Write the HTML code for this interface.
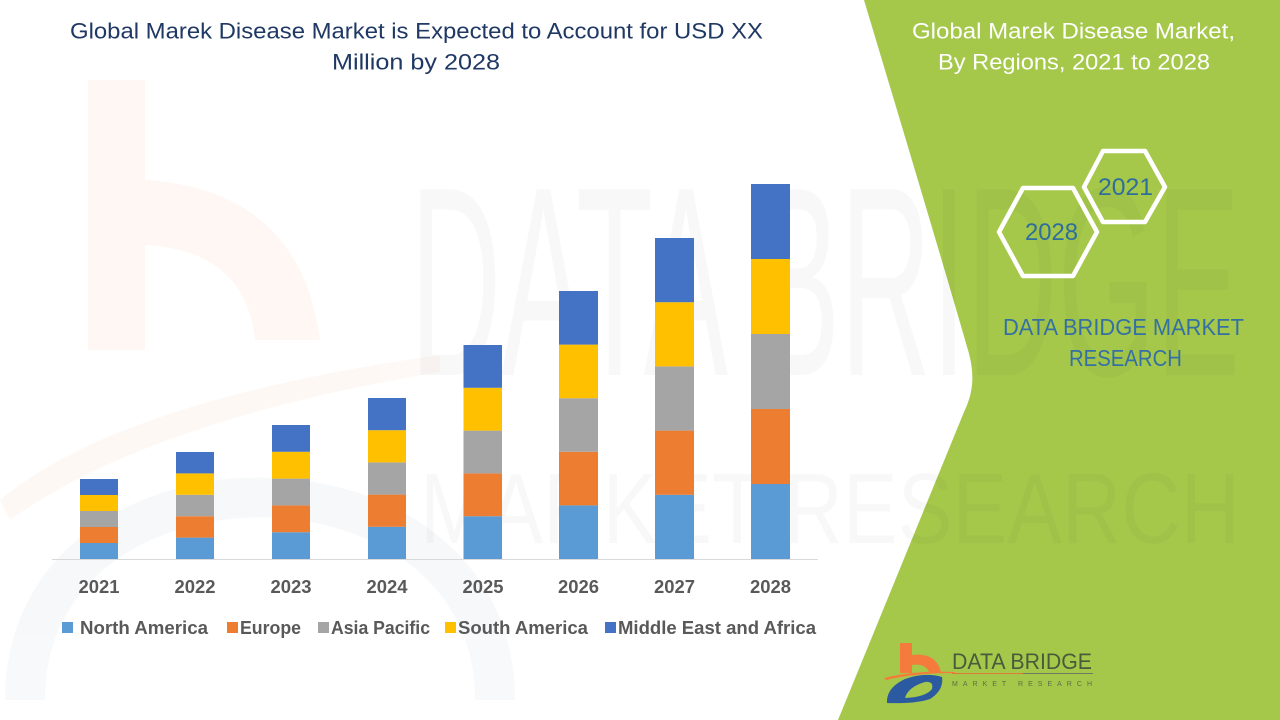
<!DOCTYPE html>
<html>
<head>
<meta charset="utf-8">
<style>
  html,body{margin:0;padding:0;background:#fff;width:1280px;height:720px;overflow:hidden;}
  svg{display:block;overflow:hidden;}
  text{font-family:"Liberation Sans", Arial, sans-serif;}
</style>
</head>
<body>
<svg width="1280" height="720" viewBox="0 0 1280 720" xmlns="http://www.w3.org/2000/svg">
  <rect x="0" y="0" width="1280" height="720" fill="#ffffff"/>

  <!-- faint left watermark logo -->
  <g opacity="0.45">
    <rect x="88" y="80" width="57" height="270" fill="#fdeee6"/>
    <path d="M145,180 Q300,190 320,340 L255,340 Q245,250 145,245 Z" fill="#fdeee6"/>
    <path d="M0,500 Q120,400 440,355 L440,372 Q150,420 10,520 Z" fill="#fdf1ea"/>
    <path d="M25,700 C25,430 495,430 495,700" fill="none" stroke="#eef1f6" stroke-width="40"/>
  </g>

  <!-- green panel -->
  <path d="M864,0 C900,120 945,270 968,350 C976,378 972,395 964,412 L838,720 L1280,720 L1280,0 Z" fill="#a5c84b"/>

  <!-- faint background watermark text -->
  <text x="410" y="375" font-size="270" textLength="830" lengthAdjust="spacingAndGlyphs" fill="#000" opacity="0.025">DATA BRIDGE</text>
  <text x="420" y="543" font-size="100" textLength="820" lengthAdjust="spacingAndGlyphs" fill="#000" opacity="0.025">MARKET RESEARCH</text>

  <!-- Left title -->
  <text x="70" y="38.5" font-size="22" fill="#1f3864" textLength="693" lengthAdjust="spacingAndGlyphs">Global Marek Disease Market is Expected to Account for USD XX</text>
  <text x="332" y="69.5" font-size="22" fill="#1f3864" textLength="168" lengthAdjust="spacingAndGlyphs">Million by 2028</text>

  <!-- axis -->
  <line x1="52" y1="559.5" x2="818" y2="559.5" stroke="#d9d9d9" stroke-width="1"/>

  <!-- 2021 -->
  <g>
    <rect x="80" y="543" width="38" height="16" fill="#5b9bd5"/>
    <rect x="80" y="527" width="38" height="16" fill="#ed7d31"/>
    <rect x="80" y="511" width="38" height="16" fill="#a5a5a5"/>
    <rect x="80" y="495" width="38" height="16" fill="#ffc000"/>
    <rect x="80" y="479" width="38" height="16" fill="#4472c4"/>
  </g>
  <!-- 2022 -->
  <g>
    <rect x="176" y="537.6" width="38" height="21.4" fill="#5b9bd5"/>
    <rect x="176" y="516.2" width="38" height="21.4" fill="#ed7d31"/>
    <rect x="176" y="494.8" width="38" height="21.4" fill="#a5a5a5"/>
    <rect x="176" y="473.4" width="38" height="21.4" fill="#ffc000"/>
    <rect x="176" y="452" width="38" height="21.4" fill="#4472c4"/>
  </g>
  <!-- 2023 -->
  <g>
    <rect x="272" y="532.2" width="38" height="26.8" fill="#5b9bd5"/>
    <rect x="272" y="505.4" width="38" height="26.8" fill="#ed7d31"/>
    <rect x="272" y="478.6" width="38" height="26.8" fill="#a5a5a5"/>
    <rect x="272" y="451.8" width="38" height="26.8" fill="#ffc000"/>
    <rect x="272" y="425" width="38" height="26.8" fill="#4472c4"/>
  </g>
  <!-- 2024 -->
  <g>
    <rect x="368" y="526.8" width="38" height="32.2" fill="#5b9bd5"/>
    <rect x="368" y="494.6" width="38" height="32.2" fill="#ed7d31"/>
    <rect x="368" y="462.4" width="38" height="32.2" fill="#a5a5a5"/>
    <rect x="368" y="430.2" width="38" height="32.2" fill="#ffc000"/>
    <rect x="368" y="398" width="38" height="32.2" fill="#4472c4"/>
  </g>
  <!-- 2025 -->
  <g>
    <rect x="463.5" y="516.2" width="38.5" height="42.8" fill="#5b9bd5"/>
    <rect x="463.5" y="473.4" width="38.5" height="42.8" fill="#ed7d31"/>
    <rect x="463.5" y="430.6" width="38.5" height="42.8" fill="#a5a5a5"/>
    <rect x="463.5" y="387.8" width="38.5" height="42.8" fill="#ffc000"/>
    <rect x="463.5" y="345" width="38.5" height="42.8" fill="#4472c4"/>
  </g>
  <!-- 2026 -->
  <g>
    <rect x="559" y="505.4" width="39" height="53.6" fill="#5b9bd5"/>
    <rect x="559" y="451.8" width="39" height="53.6" fill="#ed7d31"/>
    <rect x="559" y="398.2" width="39" height="53.6" fill="#a5a5a5"/>
    <rect x="559" y="344.6" width="39" height="53.6" fill="#ffc000"/>
    <rect x="559" y="291" width="39" height="53.6" fill="#4472c4"/>
  </g>
  <!-- 2027 -->
  <g>
    <rect x="655" y="494.8" width="39" height="64.2" fill="#5b9bd5"/>
    <rect x="655" y="430.6" width="39" height="64.2" fill="#ed7d31"/>
    <rect x="655" y="366.4" width="39" height="64.2" fill="#a5a5a5"/>
    <rect x="655" y="302.2" width="39" height="64.2" fill="#ffc000"/>
    <rect x="655" y="238" width="39" height="64.2" fill="#4472c4"/>
  </g>
  <!-- 2028 -->
  <g>
    <rect x="751" y="484" width="39" height="75" fill="#5b9bd5"/>
    <rect x="751" y="409" width="39" height="75" fill="#ed7d31"/>
    <rect x="751" y="334" width="39" height="75" fill="#a5a5a5"/>
    <rect x="751" y="259" width="39" height="75" fill="#ffc000"/>
    <rect x="751" y="184" width="39" height="75" fill="#4472c4"/>
  </g>

  <!-- Year labels -->
  <g font-size="18" font-weight="bold" fill="#595959" text-anchor="middle">
    <text x="99" y="593" textLength="41" lengthAdjust="spacingAndGlyphs">2021</text>
    <text x="195" y="593" textLength="41" lengthAdjust="spacingAndGlyphs">2022</text>
    <text x="291" y="593" textLength="41" lengthAdjust="spacingAndGlyphs">2023</text>
    <text x="387" y="593" textLength="41" lengthAdjust="spacingAndGlyphs">2024</text>
    <text x="483" y="593" textLength="41" lengthAdjust="spacingAndGlyphs">2025</text>
    <text x="578.5" y="593" textLength="41" lengthAdjust="spacingAndGlyphs">2026</text>
    <text x="674.5" y="593" textLength="41" lengthAdjust="spacingAndGlyphs">2027</text>
    <text x="770.5" y="593" textLength="41" lengthAdjust="spacingAndGlyphs">2028</text>
  </g>

  <!-- Legend -->
  <g font-size="18" font-weight="bold" fill="#595959">
    <rect x="62" y="622" width="11" height="11" fill="#5b9bd5"/>
    <text x="80" y="634" textLength="128" lengthAdjust="spacingAndGlyphs">North America</text>
    <rect x="227" y="622" width="11" height="11" fill="#ed7d31"/>
    <text x="240" y="634" textLength="61" lengthAdjust="spacingAndGlyphs">Europe</text>
    <rect x="318" y="622" width="11" height="11" fill="#a5a5a5"/>
    <text x="331" y="634" textLength="99" lengthAdjust="spacingAndGlyphs">Asia Pacific</text>
    <rect x="445" y="622" width="11" height="11" fill="#ffc000"/>
    <text x="458" y="634" textLength="130" lengthAdjust="spacingAndGlyphs">South America</text>
    <rect x="605" y="622" width="11" height="11" fill="#4472c4"/>
    <text x="618" y="634" textLength="198" lengthAdjust="spacingAndGlyphs">Middle East and Africa</text>
  </g>

  <!-- Right panel title -->
  <text x="912" y="38.5" font-size="22" fill="#ffffff" textLength="323" lengthAdjust="spacingAndGlyphs">Global Marek Disease Market,</text>
  <text x="938" y="69.5" font-size="22" fill="#ffffff" textLength="272" lengthAdjust="spacingAndGlyphs">By Regions, 2021 to 2028</text>

  <!-- Hexagons -->
  <polygon points="999,232 1023,188 1073,188 1097,232 1073,276 1023,276" fill="none" stroke="#ffffff" stroke-width="4.5" stroke-linejoin="round"/>
  <polygon points="1084,187 1103,151 1145,151 1165,187 1145,222 1103,222" fill="none" stroke="#ffffff" stroke-width="4.5" stroke-linejoin="round"/>
  <text x="1025" y="240" font-size="24" fill="#2e6d9c" textLength="53" lengthAdjust="spacingAndGlyphs">2028</text>
  <text x="1098" y="195" font-size="24" fill="#2e6d9c" textLength="55" lengthAdjust="spacingAndGlyphs">2021</text>

  <!-- Data bridge market research -->
  <text x="1003" y="335" font-size="23" fill="#3570a4" textLength="241" lengthAdjust="spacingAndGlyphs">DATA BRIDGE MARKET</text>
  <text x="1069" y="366" font-size="23" fill="#3570a4" textLength="113" lengthAdjust="spacingAndGlyphs">RESEARCH</text>

  <!-- Bottom logo -->
  <g>
    <path d="M900,643 L912,643 L912,655 Q936,652 941,672 L929,672 Q925,663 912,665 L912,673 L900,673 Z" fill="#f47b3c"/>
    <path d="M884,678 Q915,670 955,672 L955,673 Q915,673 886,680 Z" fill="#f47b3c"/>
    <path d="M887,703 Q886,688 905,679 Q925,672 942,677 Q944,690 930,699 Q915,704 887,703 Z" fill="#2b5aa0"/>
    <path d="M905,698 Q908,687 925,682 Q934,681 932,689 Q926,697 905,698 Z" fill="#a5c84b"/>
    <text x="952" y="669" font-size="22" fill="#4b5a3c" textLength="140" lengthAdjust="spacingAndGlyphs">DATA BRIDGE</text>
    <line x1="952" y1="673.5" x2="1023" y2="673.5" stroke="#e07a3a" stroke-width="1"/>
    <line x1="1023" y1="673.5" x2="1093" y2="673.5" stroke="#6e7a60" stroke-width="1"/>
    <text x="952" y="686" font-size="7" fill="#5e6e45" textLength="140" lengthAdjust="spacing">MARKET  RESEARCH</text>
  </g>
</svg>
</body>
</html>
